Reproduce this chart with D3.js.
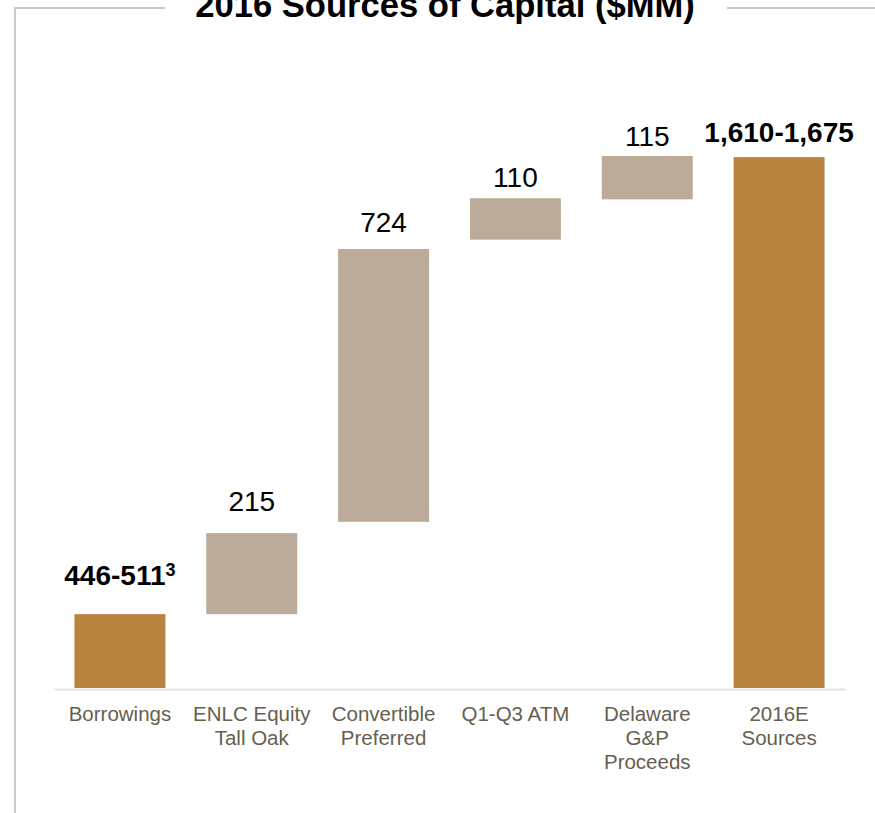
<!DOCTYPE html>
<html>
<head>
<meta charset="utf-8">
<script src="https://cdn.jsdelivr.net/npm/d3@7"></script>
<style>
  html, body { margin: 0; padding: 0; background: #fff; }
  svg { display: block; font-family: "Liberation Sans", Arial, sans-serif; }
</style>
</head>
<body>
<svg id="chart" width="875" height="813"></svg>
<script>
// ---- data ($MM) ----
const categories = [
  ["Borrowings"],
  ["ENLC Equity", "Tall Oak"],
  ["Convertible", "Preferred"],
  ["Q1-Q3 ATM"],
  ["Delaware", "G&P", "Proceeds"],
  ["2016E", "Sources"]
];
const valueLabels = ["446-511", "215", "724", "110", "115", "1,610-1,675"];
const labelSuper = ["3", "", "", "", "", ""];
const barStart = [0, 196, 441, 1190, 1297, 0];
const barEnd   = [196, 411, 1165, 1300, 1412, 1409];
const isTotal  = [true, false, false, false, false, true];
const title = "2016 Sources of Capital ($MM)";

// ---- layout ----
const svg = d3.select("#chart");
const baseY = 688, topY = 156;
const labelGap = [29, 22, 17, 11, 10, 15];
const colTotal = "#b8843f", colStep = "#bbab98";

const x = d3.scaleBand()
  .domain(d3.range(categories.length))
  .range([54, 845])
  .paddingInner(0.31)
  .paddingOuter(0.155);
const y = d3.scaleLinear().domain([0, 1412]).range([baseY, topY]);

// frame lines
const frame = svg.append("g").attr("stroke", "#c9c9c9").attr("stroke-width", 2).attr("fill", "none");
frame.append("path").attr("d", "M15,813 V8 H165");
frame.append("path").attr("d", "M727,8 H875");

// title (clipped at the top edge as in the original)
svg.append("text")
  .attr("x", 445).attr("y", 17)
  .attr("text-anchor", "middle")
  .attr("font-size", 34.6).attr("font-weight", "bold")
  .attr("fill", "#000")
  .text(title);

// x axis (baseline)
const axis = svg.append("g")
  .attr("transform", `translate(0,${baseY + 1})`)
  .call(d3.axisBottom(x).tickSize(0).tickFormat(""));
axis.select(".domain").attr("stroke", "#e6e3dc").attr("stroke-width", 2);

// bars
svg.append("g").selectAll("rect")
  .data(barStart.map((s, i) => ({ s, e: barEnd[i], i })))
  .join("rect")
  .attr("x", d => x(d.i))
  .attr("width", x.bandwidth())
  .attr("y", d => y(d.e))
  .attr("height", d => y(d.s) - y(d.e))
  .attr("fill", d => isTotal[d.i] ? colTotal : colStep);

// value labels
const vl = svg.append("g").selectAll("text")
  .data(valueLabels.map((t, i) => ({ t, i })))
  .join("text")
  .attr("x", d => x(d.i) + x.bandwidth() / 2)
  .attr("y", d => y(barEnd[d.i]) - labelGap[d.i])
  .attr("text-anchor", "middle")
  .attr("font-size", 28)
  .attr("font-weight", d => isTotal[d.i] ? "bold" : "normal")
  .attr("fill", "#000");
vl.append("tspan").text(d => d.t);
vl.filter(d => labelSuper[d.i]).append("tspan")
  .attr("font-size", 18).attr("dy", -9)
  .text(d => labelSuper[d.i]);

// category labels
const cl = svg.append("g").selectAll("text")
  .data(categories.map((lines, i) => ({ lines, i })))
  .join("text")
  .attr("text-anchor", "middle")
  .attr("font-size", 20.5)
  .attr("fill", "#675e4f")
  .attr("transform", d => `translate(${x(d.i) + x.bandwidth() / 2},721)`);
cl.selectAll("tspan")
  .data(d => d.lines)
  .join("tspan")
  .attr("x", 0)
  .attr("y", (l, j) => j * 24)
  .text(l => l);
</script>
</body>
</html>
